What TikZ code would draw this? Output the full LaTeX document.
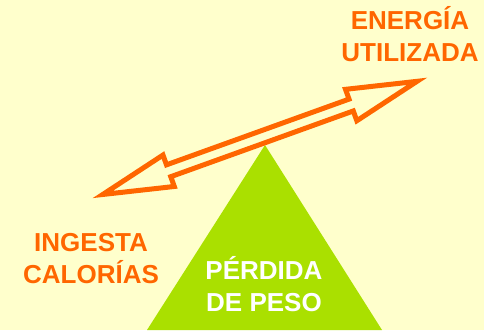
\documentclass[tikz,border=0pt]{standalone}
\usepackage{fontspec}
\setmainfont{Liberation Sans}
\definecolor{fondo}{RGB}{255,255,204}
\definecolor{naranja}{RGB}{255,102,0}
\definecolor{lima}{RGB}{170,224,0}
\begin{document}
\begin{tikzpicture}[x=1pt, y=-1pt,
  rotulo/.style={font=\fontsize{26}{32}\selectfont\bfseries, align=center, inner sep=0pt}]
\fill[fondo] (0,0) rectangle (484,330);
\useasboundingbox (0,0) rectangle (484,330);

\fill[lima] (147,330) -- (265,145) -- (382,330) -- cycle;

\begin{scope}[shift={(259.9,137.9)}, rotate=19.8]
\filldraw[draw=naranja, fill=fondo, line width=5pt]
  (-167,0) -- (-97,16.7) -- (-97,6.3) -- (97,6.3) -- (97,16.7) -- (167,0)
  -- (97,-16.7) -- (97,-6.3) -- (-97,-6.3) -- (-97,-16.7) -- cycle;
\end{scope}

\node (E) at (410, 34) [rotulo, text=naranja] {ENERGÍA\\UTILIZADA};
\node (I) at (91, 258.5) [rotulo, text=naranja] {INGESTA\\CALORÍAS};
\node (P) at (264, 284.5) [rotulo, text=white] {PÉRDIDA\\DE PESO};
\end{tikzpicture}
\end{document}
